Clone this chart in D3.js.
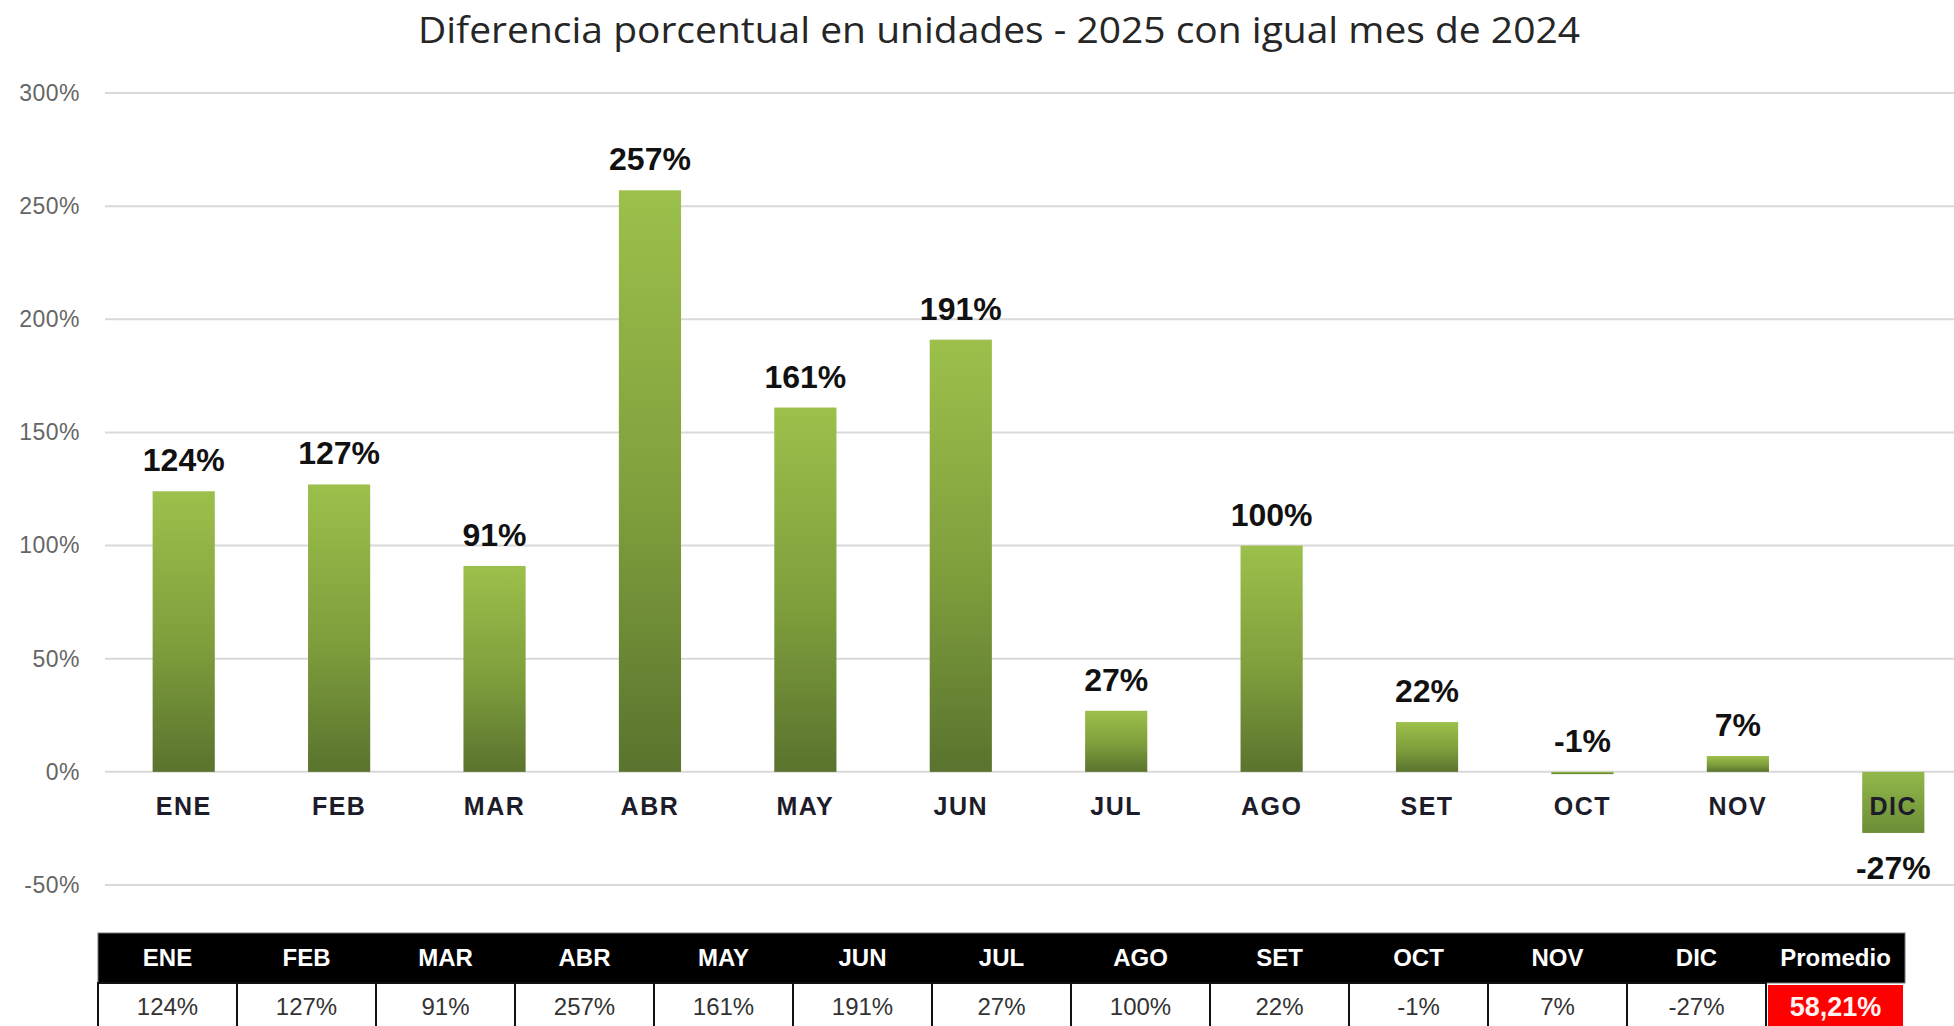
<!DOCTYPE html>
<html>
<head>
<meta charset="utf-8">
<script src="https://cdn.jsdelivr.net/npm/d3@7"></script>
<style>
  html, body { margin: 0; padding: 0; background: #ffffff; }
  svg { display: block; }
</style>
</head>
<body>
<svg id="chart" width="1954" height="1026"></svg>
<script>
// ---- data ----
const months = ["ENE", "FEB", "MAR", "ABR", "MAY", "JUN", "JUL", "AGO", "SET", "OCT", "NOV", "DIC"];
const values = [124, 127, 91, 257, 161, 191, 27, 100, 22, -1, 7, -27];
const yTicks = [-50, 0, 50, 100, 150, 200, 250, 300];
const promedioLabel = "Promedio";
const promedioValue = 58.21;
const titleText = "Diferencia porcentual en unidades - 2025 con igual mes de 2024";

// ---- layout ----
const W = 1954, H = 1026;
const svg = d3.select("#chart");

const defs = svg.append("defs");
const grad = defs.append("linearGradient")
  .attr("id", "barGrad").attr("x1", 0).attr("y1", 0).attr("x2", 0).attr("y2", 1);
grad.append("stop").attr("offset", "0%").attr("stop-color", "#9cc04b");
grad.append("stop").attr("offset", "55%").attr("stop-color", "#7e9e3c");
grad.append("stop").attr("offset", "100%").attr("stop-color", "#5a732e");

const gradNeg = defs.append("linearGradient")
  .attr("id", "barGradNeg").attr("x1", 0).attr("y1", 0).attr("x2", 0).attr("y2", 1);
gradNeg.append("stop").attr("offset", "0%").attr("stop-color", "#92b84a");
gradNeg.append("stop").attr("offset", "100%").attr("stop-color", "#6c8c36");

const y = d3.scaleLinear().domain([-50, 300]).range([885, 93]);
const x = d3.scaleBand().domain(months).range([106, 1971]).paddingInner(0.6).paddingOuter(0.3);

// title
svg.append("text")
  .attr("x", 999).attr("y", 43)
  .attr("text-anchor", "middle")
  .attr("font-family", "'Open Sans', Lato, sans-serif")
  .attr("font-size", 37)
  .attr("fill", "#262626")
  .attr("textLength", 1162)
  .attr("lengthAdjust", "spacingAndGlyphs")
  .text(titleText);

// grid + y axis
const yAxis = d3.axisLeft(y).tickValues(yTicks).tickFormat(d => d + "%").tickSize(0).tickPadding(0);
const gy = svg.append("g").attr("transform", "translate(80,0)").call(yAxis);
gy.select(".domain").remove();
gy.selectAll("text")
  .attr("font-family", "'Liberation Sans', Arial, sans-serif")
  .attr("font-size", 23)
  .attr("letter-spacing", 0.5)
  .attr("fill", "#666666");

svg.append("g").selectAll("line").data(yTicks).join("line")
  .attr("x1", 105).attr("x2", W)
  .attr("y1", d => y(d)).attr("y2", d => y(d))
  .attr("stroke", "#d9d9d9").attr("stroke-width", 2);

// bars
svg.append("g").selectAll("rect").data(values).join("rect")
  .attr("x", (d, i) => x(months[i]))
  .attr("width", x.bandwidth())
  .attr("y", d => y(Math.max(0, d)))
  .attr("height", d => Math.max(2, Math.abs(y(d) - y(0))))
  .attr("fill", d => d < -5 ? "url(#barGradNeg)" : "url(#barGrad)");

// category labels
svg.append("g").selectAll("text").data(months).join("text")
  .attr("x", d => x(d) + x.bandwidth() / 2)
  .attr("y", 815)
  .attr("text-anchor", "middle")
  .attr("font-family", "'Liberation Sans', Arial, sans-serif")
  .attr("font-weight", "bold")
  .attr("font-size", 25)
  .attr("letter-spacing", 1.5)
  .attr("fill", "#1c1c2a")
  .text(d => d);

// value labels
svg.append("g").selectAll("text").data(values).join("text")
  .attr("x", (d, i) => x(months[i]) + x.bandwidth() / 2)
  .attr("y", d => d > -5 ? y(Math.max(0, d)) - 20 : y(d) + 46)
  .attr("text-anchor", "middle")
  .attr("font-family", "'Liberation Sans', Arial, sans-serif")
  .attr("font-weight", "bold")
  .attr("font-size", 32)
  .attr("fill", "#111111")
  .text(d => d + "%");

// ---- table ----
const cols = months.concat([promedioLabel]);
const tx = d3.scaleBand().domain(cols).range([98, 1905]);
const headTop = 933, headBot = 983, rowBot = 1050;
const tg = svg.append("g");

tg.append("rect").attr("x", tx.range()[0]).attr("y", headTop)
  .attr("width", tx.range()[1] - tx.range()[0]).attr("height", headBot - headTop)
  .attr("fill", "#000000").attr("stroke", "#777").attr("stroke-width", 1);

tg.selectAll("text.head").data(cols).join("text")
  .attr("class", "head")
  .attr("x", d => tx(d) + tx.bandwidth() / 2)
  .attr("y", 966)
  .attr("text-anchor", "middle")
  .attr("font-family", "'Liberation Sans Narrow', 'Liberation Sans', Arial, sans-serif")
  .attr("font-weight", "bold")
  .attr("font-size", 24)
  .attr("fill", "#ffffff")
  .text(d => d);

// value cells
tg.selectAll("rect.cell").data(months).join("rect")
  .attr("class", "cell")
  .attr("x", d => tx(d)).attr("y", headBot)
  .attr("width", tx.bandwidth()).attr("height", rowBot - headBot)
  .attr("fill", "#ffffff").attr("stroke", "#111").attr("stroke-width", 2);

tg.selectAll("text.val").data(values).join("text")
  .attr("class", "val")
  .attr("x", (d, i) => tx(months[i]) + tx.bandwidth() / 2)
  .attr("y", 1015)
  .attr("text-anchor", "middle")
  .attr("font-family", "'Liberation Sans', Arial, sans-serif")
  .attr("font-size", 24)
  .attr("fill", "#333333")
  .text(d => d + "%");

// promedio cell
tg.append("rect")
  .attr("x", tx(promedioLabel) + 2).attr("y", headBot + 2)
  .attr("width", tx.bandwidth() - 4).attr("height", rowBot - headBot)
  .attr("fill", "#ff0000");
tg.append("text")
  .attr("x", tx(promedioLabel) + tx.bandwidth() / 2)
  .attr("y", 1016)
  .attr("text-anchor", "middle")
  .attr("font-family", "'Liberation Sans', Arial, sans-serif")
  .attr("font-weight", "bold")
  .attr("font-size", 27)
  .attr("fill", "#fff2f0")
  .text(d3.format(".2f")(promedioValue).replace(".", ",") + "%");
</script>
</body>
</html>
